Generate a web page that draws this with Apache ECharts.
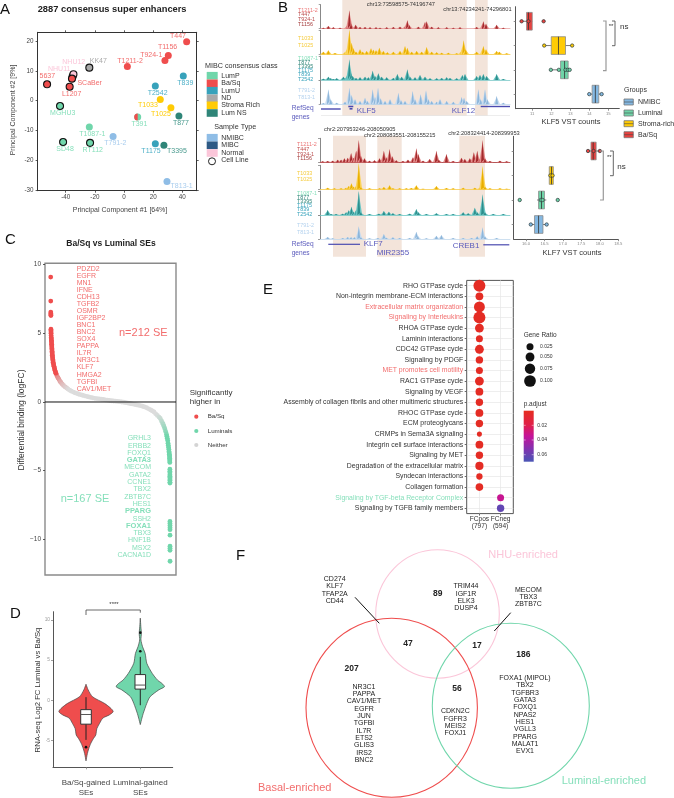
<!DOCTYPE html>
<html><head><meta charset="utf-8">
<style>html,body{margin:0;padding:0;background:#fff}#c{width:674px;height:798px}</style>
<script src="https://cdn.jsdelivr.net/npm/echarts@6/dist/echarts.min.js"></script>
</head><body><div id="c"></div>
<script>
// ---------- DATA ----------
// Panel A
const pcaNames=['T447','T1156','T924-1','T1211-2','KK47','NHU11','NHU12','SCaBer','5637','L1207','MGHU3','T839','T2542','T1033','T1025','T877','T391','T1087-1','T791-2','SD48','RT112','T1175','T3395','T813-1'];
const pc1=[43,30.4,28.1,2.3,-23.8,-35.2,-34.7,-35.7,-52.8,-37.3,-43.9,40.7,21.5,24.9,32.2,37.7,9.4,-23.8,-7.5,-41.8,-23.3,21.5,27.4,29.5];
const pc2=[19.8,15.2,13.5,11.5,11.1,8.2,8.9,7.4,5.5,4.7,-1.8,8.3,4.9,0.4,-2.4,-5.2,-5.5,-8.9,-12.1,-13.9,-14.2,-14.5,-15,-27.2];
const pcaClass=['Ba/Sq','Ba/Sq','Ba/Sq','Ba/Sq','ND','Normal','Normal','Ba/Sq','Ba/Sq','Ba/Sq','LumP','LumU','LumU','Stroma Rich','Stroma Rich','Lum NS','LumP','LumP','NMIBC','LumP','LumP','LumU','Lum NS','NMIBC'];
const pcaCellLines=['KK47','NHU11','NHU12','SCaBer','5637','L1207','MGHU3','SD48','RT112'];
const classNames=['LumP','Ba/Sq','LumU','ND','Stroma Rich','Lum NS'];
const sampleTypes=['NMIBC','MIBC','Normal'];
const pcaXTicks=[-40,-20,0,20,40];
const pcaYTicks=[-30,-20,-10,0,10,20];
// Panel B tracks: [genomic bin, signal]
const klf5BaSq=[[100,3],[115,8],[130,4],[150,3],[172,10],[178,55],[183,15],[197,12],[210,5],[225,5],[240,4],[258,4],[270,3],[290,4],[310,5],[330,6],[346,8],[352,25],[358,10],[385,6],[405,20],[410,22],[425,6],[445,4],[470,4],[490,3],[510,4],[560,5],[580,22],[588,15],[620,12],[640,3]];
const klf5Stroma=[[100,8],[115,12],[135,4],[165,6],[172,18],[178,75],[185,35],[190,18],[198,8],[210,15],[218,8],[230,10],[243,18],[250,14],[258,12],[268,20],[280,10],[292,6],[310,8],[330,10],[345,25],[352,20],[365,8],[380,10],[395,8],[410,22],[425,8],[440,6],[455,5],[475,5],[500,3],[515,12],[521,42],[527,15],[560,8],[580,25],[588,15],[620,10],[628,8],[650,3]];
const klf5Luminal=[[100,4],[115,10],[122,5],[130,3],[140,5],[160,10],[165,5],[172,15],[178,62],[183,20],[188,12],[198,6],[210,8],[225,10],[235,8],[248,28],[255,12],[265,20],[275,10],[290,8],[310,6],[322,18],[335,10],[352,32],[360,10],[375,8],[390,15],[405,10],[420,5],[440,5],[455,6],[470,8],[480,6],[500,5],[517,15],[525,18],[560,12],[570,15],[580,18],[590,12],[620,18],[640,3]];
const klf5Nmibc=[[100,4],[115,45],[122,15],[140,5],[165,8],[178,50],[185,28],[195,15],[210,10],[225,20],[232,10],[248,45],[255,22],[264,50],[272,18],[285,10],[300,15],[325,35],[333,12],[345,10],[368,40],[375,15],[392,30],[408,42],[415,15],[425,10],[440,8],[450,15],[470,10],[490,8],[515,22],[522,20],[530,10],[565,45],[572,15],[585,45],[592,15],[620,25],[640,5]];
const klf7BaSq=[[100,3],[115,4],[130,5],[145,8],[155,8],[165,12],[175,14],[185,28],[192,14],[200,35],[208,67],[214,20],[225,12],[240,5],[255,6],[270,12],[283,35],[290,15],[300,40],[308,18],[320,6],[340,4],[355,8],[370,15],[380,42],[386,25],[400,5],[420,10],[440,35],[447,8],[470,25],[490,4],[515,14],[525,10],[540,12],[552,30],[562,35],[570,10],[578,67],[585,12],[600,4],[630,5],[650,3]];
const klf7Stroma=[[115,5],[135,3],[155,3],[170,5],[178,10],[186,18],[192,8],[200,10],[208,78],[214,6],[240,3],[270,3],[283,7],[300,12],[310,3],[330,3],[350,3],[365,4],[380,12],[400,2],[440,10],[470,4],[490,3],[520,5],[555,5],[570,5],[578,70],[585,8],[600,3],[630,3],[650,2]];
const klf7Luminal=[[115,15],[125,3],[140,3],[160,4],[170,8],[178,14],[186,25],[192,10],[200,15],[208,72],[214,8],[240,3],[268,4],[283,12],[298,10],[310,5],[330,3],[360,4],[380,18],[386,8],[410,3],[440,5],[470,3],[490,3],[520,8],[535,5],[555,22],[562,8],[578,62],[585,8],[610,3],[640,3]];
const klf7Nmibc=[[115,6],[130,2],[160,3],[175,6],[185,5],[195,5],[208,38],[214,5],[240,2],[265,3],[283,15],[290,4],[310,5],[330,3],[360,3],[380,22],[384,10],[410,2],[440,10],[455,12],[490,3],[520,3],[545,3],[562,8],[578,35],[585,8],[620,3]];
// Panel B boxes: [row, low, q1, median, q3, high]
const klf5Boxes=[[1,10.44,10.7,10.8,11,11],[2,11.63,12,12.38,12.75,13.1],[3,11.98,12.49,12.7,12.89,12.97],[4,14,14.15,14.32,14.5,14.65]];
const klf5Points=[[10.44,1],[10.8,1],[11.6,1],[11.63,2],[13.1,2],[11.98,3],[12.4,3],[12.75,3],[12.87,3],[12.97,3],[14,4],[14.65,4]];
const klf7Boxes=[[1,17.68,17.76,17.82,17.9,18],[2,16.63,16.63,16.69,16.74,16.74],[3,16.3,16.34,16.42,16.5,16.55],[4,16.13,16.23,16.34,16.46,16.56]];
const klf7Points=[[17.68,1],[17.83,1],[18,1],[16.66,2],[16.72,2],[15.83,3],[16.4,3],[16.45,3],[16.86,3],[16.13,4],[16.56,4]];
const klf5Ticks=[11,12,13,14,15];
const klf7Ticks=[16,16.5,17,17.5,18,18.5];
const groupNames=['NMIBC','Luminal','Stroma-rich','Ba/Sq'];
// Panel C
const baSqSE=[[1,9.1],[2,7.35],[3,6.55],[4,6.45],[5,6.35],[6,6.3],[7,5.3],[8,5.2],[9,5.1],[10,5],[12,4.85],[14,4.7],[16,4.6],[18,4.5],[20,4.4],[22,4.3],[24,4.2],[26,4.1],[28,4],[30,3.9],[32,3.8],[34,3.7],[36,3.6],[38,3.5],[40,3.4],[44,3.3],[48,3.2],[52,3.1],[56,3],[60,2.9],[65,2.8],[72,2.7],[80,2.6],[88,2.5],[96,2.4],[104,2.3],[115,2.2],[125,2.1]];
const neitherSE=[[140,2],[160,1.85],[180,1.75],[200,1.65],[226,1.5],[250,1.42],[280,1.3],[310,1.2],[350,1.1],[387,1.02],[420,.94],[460,.86],[500,.79],[550,.72],[590,.67],[629,.63],[670,.58],[720,.53],[770,.49],[820,.45],[870,.41],[920,.37],[970,.33],[1020,.3],[1070,.27],[1120,.25],[1170,.23],[1220,.2],[1270,.18],[1320,.15],[1370,.13],[1420,.11],[1470,.09],[1520,.07],[1570,.06],[1620,.04],[1670,.02],[1720,0],[1770,-.02],[1820,-.05],[1870,-.08],[1920,-.11],[1970,-.14],[2020,-.17],[2070,-.2],[2120,-.23],[2170,-.27],[2220,-.31],[2270,-.36],[2320,-.42],[2370,-.5],[2420,-.58],[2460,-.65],[2500,-.73],[2540,-.86],[2580,-.98],[2620,-1.1],[2650,-1.2],[2680,-1.38],[2700,-1.5],[2720,-1.62],[2740,-1.78],[2760,-1.95],[2780,-2.15],[2800,-2.35],[2887,-11.6]];
const luminalSE=[[2810,-2.5],[2820,-2.65],[2830,-2.8],[2838,-3],[2845,-3.15],[2852,-3.3],[2858,-3.45],[2862,-3.6],[2866,-3.7],[2870,-3.8],[2873,-3.9],[2876,-4],[2878,-4.1],[2880,-4.2],[2881,-4.3],[2882,-4.4],[2883,-4.9],[2883,-5.05],[2884,-5.15],[2884,-5.3],[2884,-5.4],[2885,-5.5],[2885,-5.6],[2885,-5.7],[2885,-5.85],[2885,-5.9],[2885,-8.7],[2885,-8.85],[2886,-9],[2886,-9.15],[2886,-9.3],[2886,-9.7],[2886,-10.5],[2886,-10.65],[2886,-10.8]];
const cYTicks=[-10,-5,0,5,10];
const baSqGenes=['PDZD2','EGFR','MN1','IFNE','CDH13','TGFB2','OSMR','IGF2BP2','BNC1','BNC2','SOX4','PAPPA','IL7R','NR3C1','KLF7','HMGA2','TGFBI','CAV1/MET'];
const luminalGenes=['GRHL3','ERBB2','FOXQ1','GATA3','MECOM','GATA2','CCNE1','TBX2','ZBTB7C','HES1','PPARG','SSH2','FOXA1','TBX3','HNF1B','MSX2','CACNA1D'];
const luminalBold=['GATA3','PPARG','FOXA1'];
// Panel D
const violinBaSqY=[2,1.3,.45,-.37,-1,-1.4,-1.8,-2.2,-2.85,-3.5,-4.3,-4.7,-5.3,-6,-6.6,-7.5];
const violinBaSqW=[0,.04,.12,.34,.46,.5,.43,.31,.25,.2,.18,.14,.09,.05,.025,0];
const violinLumY=[10.2,9.15,8.3,7.5,6.7,5.8,4.6,3.35,2.5,2.1,1.7,1.3,.45,-.37,-1.6,-2.2,-3];
const violinLumW=[0,.01,.02,.012,.04,.09,.12,.22,.32,.4,.445,.34,.18,.12,.055,.03,0];
const violinBoxes=[[1,-4.9,-2.95,-1.75,-1.15,.4],[2,-.6,1.4,1.9,3.2,5.4]];
const violinOutliers=[[1,-5.8],[2,6.1],[2,8.4]];
const violinCats=['Ba/Sq-gained\nSEs','Luminal-gained\nSEs'];
const dYTicks=[-5,0,5,10];
// Panel E
const pathways=['RHO GTPase cycle','Non-integrin membrane-ECM interactions','Extracellular matrix organization','Signaling by Interleukins','RHOA GTPase cycle','Laminin interactions','CDC42 GTPase cycle','Signaling by PDGF','MET promotes cell motility','RAC1 GTPase cycle','Signaling by VEGF','Assembly of collagen fibrils and other multimeric structures','RHOC GTPase cycle','ECM proteoglycans','CRMPs in Sema3A signaling','Integrin cell surface interactions','Signaling by MET','Degradation of the extracellular matrix','Syndecan interactions','Collagen formation','Signaling by TGF-beta Receptor Complex','Signaling by TGFB family members'];
const geneRatio=[.105,.035,.085,.105,.05,.025,.05,.03,.025,.05,.035,.03,.035,.03,.005,.035,.03,.04,.017,.033,.025,.03];
const pAdjust=[.002,.002,.002,.002,.002,.002,.002,.002,.002,.002,.002,.002,.002,.002,.002,.002,.002,.002,.002,.002,.033,.062];
const clusterOfPathway=[0,0,0,0,0,0,0,0,0,0,0,0,0,0,0,0,0,0,0,0,1,1];
const clusterNames=['FCpos\n(797)','FCneg\n(594)'];
const redPathways=['Extracellular matrix organization','Signaling by Interleukins','MET promotes cell motility'];
const greenPathways=['Signaling by TGF-beta Receptor Complex'];
const ratioLegend=[.025,.05,.075,.1];
// Panel F
const vennCounts=['89','47','17','186','207','56'];
const vennListBasalNhu=['CD274','KLF7','TFAP2A','CD44'];
const vennListNhu=['TRIM44','IGF1R','ELK3','DUSP4'];
const vennListNhuLum=['MECOM','TBX3','ZBTB7C'];
const vennListBasal=['NR3C1','PAPPA','CAV1/MET','EGFR','JUN','TGFBI','IL7R','ETS2','GLIS3','IRS2','BNC2'];
const vennListLum=['FOXA1 (MIPOL)','TBX2','TGFBR3','GATA3','FOXQ1','NPAS2','HES1','VGLL3','PPARG','MALAT1','EVX1'];
const vennListBasalLum=['CDKN2C','FGFR3','MEIS2','FOXJ1'];

// ---------- STYLE ----------
const FONT='"Liberation Sans", Arial, sans-serif';
const RED='#ef4d4d',GREEN='#70d6ab',LRED='#f26d6d',LGREEN='#85dfba';
const classColor={'LumP':GREEN,'Ba/Sq':RED,'LumU':'#37a2bb','ND':'#a9a9a9','Stroma Rich':'#ffcb05','Lum NS':'#2f8578','NMIBC':'#8fbde6','MIBC':'#2e5a85','Normal':'#fbc6d9'};
const labelColor=Object.assign({},classColor,{'LumP':LGREEN,'Ba/Sq':LRED,'ND':'#a9a9a9','Normal':'#fbc6d9','NMIBC':'#a9cdee','LumU':'#4fb0c8','Lum NS':'#4a9a8e'});
const groupColor={'NMIBC':'#84b8e2','Luminal':'#6fd4a8','Stroma-rich':'#ffcb05','Ba/Sq':'#e8413f'};
const trackStyle={red:['#a32a2c','#e58c8c'],yel:['#e8ae00','#fbd45c'],teal:['#2d8e8c','#6cc6c4'],blue:['#8db6da','#c8dcf0']};
// label offsets (px) relative to each PCA point
const pcaLabelOffset={'T447':[-8.7,-5.3],'T1156':[-.7,-8],'T924-1':[-13.7,-5],'T1211-2':[2.7,-5.7],'KK47':[9,-7],'NHU12':[.3,-12],'NHU11':[-13.5,-7],'SCaBer':[17.7,4],'5637':[.3,-8.7],'L1207':[2,7.3],'MGHU3':[2.7,6.7],'T839':[2,7],'T2542':[2.3,6.7],'T1033':[-12.3,6],'T1025':[-10,6.7],'T877':[2,6.7],'T391':[1.7,7],'T1087-1':[3,7],'T791-2':[2.3,6.7],'SD48':[2,7.3],'RT112':[2.7,7.3],'T1175':[-4.3,7],'T3395':[13,6],'T813-1':[14.7,4.7]};

// ---------- BUILDERS ----------
const graphics=[],grids=[],xAxes=[],yAxes=[],series=[];
function T(text,x,y,o={}){
  graphics.push({type:'text',x,y,rotation:o.rot||0,silent:true,z:o.z||5,style:{text,fill:o.color||'#333',
    font:(o.bold?'bold ':'')+(o.size||7)+'px '+FONT,textAlign:o.align||'left',textVerticalAlign:'middle'}});
}
function R(x,y,w,h,fill,stroke,lw,z){graphics.push({type:'rect',silent:true,z:z===undefined?1:z,shape:{x,y,width:w,height:h},style:{fill,stroke:stroke||null,lineWidth:lw||0}});}
function L(pts,stroke,lw,z){graphics.push({type:'polyline',silent:true,z:z||5,shape:{points:pts},style:{fill:null,stroke,lineWidth:lw||1}});}
function C(cx,cy,r,fill,stroke,lw){graphics.push({type:'circle',silent:true,z:5,shape:{cx,cy,r},style:{fill:fill||null,stroke:stroke||null,lineWidth:lw||0}});}
function E(cx,cy,rx,ry,stroke,lw){graphics.push({type:'ellipse',silent:true,z:4,shape:{cx,cy,rx,ry},style:{fill:null,stroke,lineWidth:lw}});}
function addGrid(l,t,r,b,o={}){grids.push(Object.assign({left:l,top:t,width:r-l,height:b-t,containLabel:false},o));return grids.length-1;}
function valAxis(g,min,max,ticks,o={}){
  const line=o.line===undefined?{show:true,lineStyle:{color:o.lineColor||'#333',width:o.lineWidth||1},onZero:false}:o.line;
  return Object.assign({type:'value',gridIndex:g,min,max,scale:true,axisLine:line,
    axisTick:ticks?{show:true,length:o.tickLen||2,customValues:ticks,lineStyle:{color:o.tickColor||'#333',width:.8}}:{show:false},
    axisLabel:(ticks&&!o.noLabel)?Object.assign({show:true,customValues:ticks,fontSize:o.labelSize||6,color:o.labelColor||'#444',margin:o.margin||3,fontFamily:FONT,formatter:o.fmt,hideOverlap:false},o.labelExtra||{}):{show:false},
    splitLine:{show:false}},o.extra||{});
}

// ---------- PANEL A ----------
const gA=addGrid(37.6,32.3,196.7,190.7);
xAxes.push(valAxis(gA,-59.3,49.9,pcaXTicks,{margin:4,labelSize:6.3}));
yAxes.push(valAxis(gA,-30.3,23,pcaYTicks,{margin:4,labelSize:6.3}));
// frame + mirrored ticks
xAxes.push(valAxis(gA,-59.3,49.9,pcaXTicks,{noLabel:true,extra:{position:'top'}}));
yAxes.push(valAxis(gA,-30.3,23,pcaYTicks,{noLabel:true,extra:{position:'right'}}));
const iA=xAxes.length-2,jA=yAxes.length-2;
series.push({type:'scatter',xAxisIndex:iA,yAxisIndex:jA,symbolSize:7,z:3,
  data:pcaNames.map((n,i)=>{
    const cell=pcaCellLines.includes(n),off=pcaLabelOffset[n];
    return {name:n,value:[pc1[i],pc2[i]],
      itemStyle:{opacity:1,color:classColor[pcaClass[i]],borderColor:cell?'#111':'transparent',borderWidth:cell?1.1:0},
      label:{show:true,formatter:n,position:'inside',offset:off,color:labelColor[pcaClass[i]],fontSize:7,fontFamily:FONT}};
  })});
series.push({type:'custom',xAxisIndex:iA,yAxisIndex:jA,z:4,data:[[pc1[pcaNames.indexOf('T391')],pc2[pcaNames.indexOf('T391')]]],
  renderItem:(p,api)=>{const c=api.coord([api.value(0),api.value(1)]);
    return {type:'sector',shape:{cx:c[0],cy:c[1],r:3.5,r0:0,startAngle:Math.PI/2,endAngle:Math.PI*1.5},style:{fill:RED}};}});
T('2887 consensus super enhancers',37.7,9,{size:9.3,bold:true,color:'#222'});
T('Principal Component #1 [64%]',120,210,{align:'center',size:7,color:'#444'});
T('Principal Component #2 [9%]',13.3,110,{align:'center',size:7,color:'#444',rot:Math.PI/2});
T('MIBC consensus class',205,65.7,{size:7.2});
classNames.forEach((n,i)=>{const y=[75.7,83.3,90.7,98.3,105.3,113][i];R(206.7,y-3.8,11,7.6,classColor[n]);T(n,221.3,y,{size:7});});
T('Sample Type',214.3,127,{size:7.2});
sampleTypes.forEach((n,i)=>{const y=[137.7,145.3,153][i];R(206.7,y-3.8,11,7.6,classColor[n]);T(n,221.3,y,{size:7});});
C(212,161.3,3.5,'#fff','#222',1);T('Cell Line',221.3,160.5,{size:7});

// ---------- PANEL B ----------
function trackRender(colors){return (p,api)=>{
  const b=api.coord([api.value(0),0]),t=api.coord([api.value(0),api.value(1)]);
  return {type:'group',children:[
    {type:'polygon',shape:{points:[[b[0]-3.4,b[1]],[t[0]-.8,t[1]+(b[1]-t[1])*.3],[t[0],t[1]],[t[0]+.8,t[1]+(b[1]-t[1])*.3],[b[0]+3.4,b[1]]]},style:{fill:colors[1]}},
    {type:'polygon',shape:{points:[[b[0]-1.5,b[1]],[t[0],t[1]],[b[0]+1.5,b[1]]]},style:{fill:colors[0]}}]};
};}
function addTrack(data,left,right,base,col,style){
  const g=addGrid(left,base-24,right,base);
  xAxes.push(valAxis(g,92,660,null,{line:{show:true,onZero:false,lineStyle:{color:col,width:.8}}}));
  yAxes.push(valAxis(g,0,72,[0,72],{noLabel:true,lineColor:'#888',lineWidth:1,tickColor:'#888',tickLen:2}));
  series.push({type:'custom',xAxisIndex:xAxes.length-1,yAxisIndex:yAxes.length-1,data,clip:false,renderItem:trackRender(style),z:3});
}
addTrack(klf5BaSq,320.7,510,28.7,'#e8a5a5',trackStyle.red);
addTrack(klf5Stroma,320.7,510,54.3,'#f7cc4a',trackStyle.yel);
addTrack(klf5Luminal,320.7,510,80,'#7cc9c9',trackStyle.teal);
addTrack(klf5Nmibc,320.7,510,104.3,'#c2d8ec',trackStyle.blue);
addTrack(klf7BaSq,320,510,162.3,'#a32a2c',trackStyle.red);
addTrack(klf7Stroma,320,510,189.3,'#f7cc4a',trackStyle.yel);
addTrack(klf7Luminal,320,510,215,'#6cc6c4',trackStyle.teal);
addTrack(klf7Nmibc,320,510,239,'#c2d8ec',trackStyle.blue);
const SH='#f3e4da';
R(342.3,0,124.4,115.7,SH,null,0,0);R(475,0,12.7,115.7,SH,null,0,0);
R(333,135.7,33,121,SH,null,0,0);R(377.3,135.7,24.4,121,SH,null,0,0);R(459.3,135.7,25.7,121,SH,null,0,0);
const topLabels=[['T1211-2',10.3,'#ec7475'],['T447',15,'#b94a4a'],['T924-1',20,'#b94a4a'],['T1156',24.3,'#a33a3a'],['T1033',38.7,'#f5cb3d'],['T1025',45.3,'#f5cb3d'],['T1087-1',59,LGREEN],['T877',62.7,'#2f8578'],['T3395',66.7,'#2f8578'],['T1175',70.7,'#37a2bb'],['T839',75,'#37a2bb'],['T2542',79.3,'#37a2bb'],['T791-2',91,'#b4d2ee'],['T813-1',97.7,'#b4d2ee']];
topLabels.forEach(a=>T(a[0],298,a[1],{size:5.4,color:a[2]}));
const botLabels=[['T1211-2',144.7,'#ec7475'],['T447',149.3,'#c24c4c'],['T924-1',154.3,'#b94a4a'],['T1156',159,'#a33a3a'],['T1033',173.7,'#f5cb3d'],['T1025',179.7,'#f5cb3d'],['T1087-1',193.7,LGREEN],['T877',197.7,'#2f8578'],['T3395',201.7,'#2f8578'],['T1175',205.7,'#37a2bb'],['T839',210,'#37a2bb'],['T2542',214.3,'#37a2bb'],['T791-2',225.7,'#b4d2ee'],['T813-1',232.7,'#b4d2ee']];
botLabels.forEach(a=>T(a[0],297,a[1],{size:5.4,color:a[2]}));
T('chr13:73598575-74196747',366.7,4,{size:5.7});T('chr13:74234241-74296801',443.3,9,{size:5.7});
T('chr2:207953246-208050905',324,129.3,{size:5.7});T('chr2:208083551-208155215',364,135,{size:5.7});T('chr2:208324414-208399953',448.3,133,{size:5.7});
const GENE='#4a4ab0',GT='#5a5abc';
L([[321,109],[340.7,109]],GENE,1.4);R(348.3,105.7,5,1.6,GENE);R(349.5,108,3,1.6,GENE);L([[480.7,106.5],[510,106.5]],GENE,1.4);
L([[321,115.5],[510,115.5]],'#e0e0e0',.6);
T('KLF5',356.7,111,{size:8,color:GT});T('KLF12',451.7,111,{size:8,color:GT});
T('RefSeq',291.7,107.7,{size:6.6,color:GT});T('genes',291.7,116.7,{size:6.6,color:GT});
L([[328.3,244.3],[360,244.3]],GENE,1.2);L([[483.3,244.8],[509.3,244.8]],GENE,1.2);
T('KLF7',363.7,244,{size:8,color:GT});T('MIR2355',376.7,252.7,{size:8,color:GT});T('CREB1',452.7,245.7,{size:8,color:GT});
T('RefSeq',291.7,244.3,{size:6.6,color:GT});T('genes',291.7,253.3,{size:6.6,color:GT});

const boxRender=(horizontal,thick,fills,stroke,lw)=>(p,api)=>{
  const pos=api.value(0);const co=v=>horizontal?api.coord([v,pos]):api.coord([pos,v]);
  const a=co(api.value(1)),q1=co(api.value(2)),m=co(api.value(3)),q3=co(api.value(4)),b=co(api.value(5));
  const fill=fills[p.dataIndex];const h=thick/2;
  const rect=horizontal?{x:q1[0],y:q1[1]-h,width:q3[0]-q1[0],height:thick}:{x:q1[0]-h,y:q3[1],width:thick,height:q1[1]-q3[1]};
  const med=horizontal?{x1:m[0],y1:m[1]-h,x2:m[0],y2:m[1]+h}:{x1:m[0]-h,y1:m[1],x2:m[0]+h,y2:m[1]};
  return {type:'group',children:[
    {type:'line',shape:{x1:a[0],y1:a[1],x2:b[0],y2:b[1]},style:{stroke:stroke,lineWidth:lw}},
    {type:'rect',shape:rect,style:{fill,stroke:horizontal?'#8c8c8c':'#333',lineWidth:lw}},
    {type:'line',shape:med,style:{stroke:horizontal?'#333':'#555',lineWidth:lw}}]};
};
function addBoxes(boxes,points,min,max,ticks,l,t,r,b,fmt){
  const g=addGrid(l,t,r,b);
  xAxes.push(valAxis(g,min,max,ticks,{lineColor:'#555',tickColor:'#777',labelSize:4.2,labelColor:'#888',margin:3,fmt}));
  yAxes.push(valAxis(g,.4,4.6,[1,2,3,4],{noLabel:true,lineColor:'#555',tickColor:'#777',extra:{inverse:true}}));
  const xi=xAxes.length-1,yi=yAxes.length-1;
  series.push({type:'custom',xAxisIndex:xi,yAxisIndex:yi,z:3,data:boxes,encode:{x:[1,2,3,4,5],y:0},
    renderItem:boxRender(true,17.7,[groupColor['Ba/Sq'],groupColor['Stroma-rich'],groupColor['Luminal'],groupColor['NMIBC']],'#555',.8)});
  series.push({type:'scatter',xAxisIndex:xi,yAxisIndex:yi,z:4,symbolSize:3.4,data:points,
    itemStyle:{opacity:1,color:pa=>[groupColor['Ba/Sq'],groupColor['Stroma-rich'],groupColor['Luminal'],groupColor['NMIBC']][pa.value[1]-1],borderColor:'#2a3a3a',borderWidth:.7}});
}
addBoxes(klf5Boxes,klf5Points,10.13,15.58,klf5Ticks,515.7,6.7,619.3,108.7,v=>String(v));
addBoxes(klf7Boxes,klf7Points,15.667,18.5,klf7Ticks,513.7,136.3,618.3,239.2,v=>v.toFixed(1));
T('KLF5 VST counts',571,121.7,{align:'center',size:7.5});T('KLF7 VST counts',572,253.3,{align:'center',size:7.5});
L([[603,21],[606,21],[606,70.7],[603,70.7]],'#999',1.2);L([[612,21],[615,21],[615,45.7],[612,45.7]],'#555',.9);
T('**',611,26,{size:6,align:'center'});T('ns',620,26.7,{size:8});
L([[600,151],[603.3,151],[603.3,200],[600,200]],'#999',1.2);L([[610,151],[613.3,151],[613.3,175.7],[610,175.7]],'#555',.9);
T('**',609.3,157,{size:6,align:'center'});T('ns',617.3,166.3,{size:8});
T('Groups',624,90.3,{size:7});
groupNames.forEach((n,i)=>{const y=[102,113,123.7,134.7][i];R(624,y-3,9.3,6,groupColor[n],'#777',.8);L([[624,y],[633.3,y]],'#444',.6);T(n,638,y,{size:7});});

// ---------- PANEL C ----------
const gC=addGrid(45,263.3,176,575,{show:true,borderColor:'#8a8a8a',borderWidth:1.4});
xAxes.push(valAxis(gC,-137,3031,null,{line:{show:false,onZero:false}}));
yAxes.push(valAxis(gC,-12.6,10.1,cYTicks,{line:{show:false,onZero:false},labelSize:6.5,margin:4,fmt:v=>v<0?'\u2212'+(-v):String(v)}));
const iC=xAxes.length-1,jC=yAxes.length-1;
function mix(a,b,t){t=Math.max(0,Math.min(1,t));const h=s=>[1,3,5].map(i=>parseInt(s.substr(i,2),16));const x=h(a),y=h(b);return 'rgb('+x.map((v,i)=>Math.round(v+(y[i]-v)*t)).join(',')+')';}
series.push({type:'scatter',xAxisIndex:iC,yAxisIndex:jC,symbolSize:4.8,z:3,name:'Neither',data:neitherSE,
  itemStyle:{opacity:1,color:p=>{const f=p.value[1];return f>0?mix('#dcdcdc',RED,(f-.9)/1.6):mix('#dcdcdc',GREEN,(-f-.9)/1.7);}}});
series.push({type:'scatter',xAxisIndex:iC,yAxisIndex:jC,symbolSize:4.8,z:3,name:'Luminals',data:luminalSE,itemStyle:{opacity:1,color:GREEN}});
series.push({type:'scatter',xAxisIndex:iC,yAxisIndex:jC,symbolSize:4.8,z:3,name:'Ba/Sq',data:baSqSE,itemStyle:{opacity:1,color:RED}});
series.push({type:'line',xAxisIndex:iC,yAxisIndex:jC,symbol:'none',z:4,data:[[-137,0],[3031,0]],lineStyle:{color:'#111',width:1}});
T('Ba/Sq vs Luminal SEs',111,243.7,{size:8.5,bold:true,align:'center',color:'#222'});
T('Differential binding (logFC)',21.7,420,{size:8.5,align:'center',rot:Math.PI/2});
baSqGenes.forEach((g,i)=>T(g,76.7,269+i*7.04,{size:7,color:LRED}));
luminalGenes.forEach((g,i)=>{const b=luminalBold.includes(g);T(g,151,438.3+i*7.3,{size:b?7.5:7,color:LGREEN,align:'right',bold:b});});
T('n=212 SE',119,333.3,{size:11,color:LRED});T('n=167 SE',60.7,499,{size:11,color:LGREEN});
T('Significantly',189.7,392.3,{size:8});T('higher in',189.7,401.3,{size:8});
[['Ba/Sq',RED,416.7],['Luminals',GREEN,431],['Neither','#d4d4d4',445]].forEach(a=>{C(196.3,a[2],2.1,a[1]);T(a[0],207.7,a[2],{size:6.2});});

// ---------- PANEL D ----------
const gD=addGrid(53,611.7,172.7,767.3);
xAxes.push(valAxis(gD,.392,2.597,[1,2],{lineColor:'#555',tickColor:'#888',labelSize:8,labelColor:'#444',margin:11,fmt:v=>violinCats[v-1],labelExtra:{lineHeight:9.6}}));
yAxes.push(valAxis(gD,-8.3,11,dYTicks,{lineColor:'#555',tickColor:'#888',labelSize:4.8,labelColor:'#999',margin:3}));
const iD=xAxes.length-1,jD=yAxes.length-1;
function violin(center,ys,ws,color){
  series.push({type:'custom',xAxisIndex:iD,yAxisIndex:jD,z:2,data:[[center,ys[0]]],
    renderItem:(p,api)=>{const left=ys.map((y,i)=>api.coord([center-ws[i],y]));const right=ys.map((y,i)=>api.coord([center+ws[i],y])).reverse();
      return {type:'polygon',shape:{points:left.concat(right),smooth:.25},style:{fill:color,stroke:'#444',lineWidth:.7}};}});
}
violin(1,violinBaSqY,violinBaSqW,RED);violin(2,violinLumY,violinLumW,GREEN);
series.push({type:'custom',xAxisIndex:iD,yAxisIndex:jD,z:3,data:violinBoxes,encode:{x:0,y:[1,2,3,4,5]},renderItem:boxRender(false,10.6,['#fff','#fff'],'#222',1)});
series.push({type:'scatter',xAxisIndex:iD,yAxisIndex:jD,z:4,symbolSize:2.6,data:violinOutliers,itemStyle:{opacity:1,color:'#111'}});
T('RNA-seq Log2 FC Luminal vs Ba/Sq',37.7,690,{size:7.7,align:'center',rot:Math.PI/2});
L([[86,615],[86,610],[140.3,610],[140.3,612.7]],'#444',.8);T('****',114,604.7,{size:6,align:'center'});

// ---------- PANEL E ----------
const gE=addGrid(466.7,280.4,513.3,513.6,{show:true,borderColor:'#555',borderWidth:1});
xAxes.push(valAxis(gE,-.6,1.6,[0,1],{line:{show:false,onZero:false},tickColor:'#444',labelSize:6.6,labelColor:'#333',margin:2.5,fmt:v=>clusterNames[v],extra:{splitLine:{show:true,lineStyle:{color:'#e6e6e6',width:.7}}}}));
yAxes.push({type:'category',gridIndex:gE,inverse:true,
  data:pathways.map(n=>({value:n,textStyle:{color:redPathways.includes(n)?LRED:greenPathways.includes(n)?LGREEN:'#333'}})),
  axisLine:{show:false,onZero:false},axisTick:{show:true,length:2,alignWithLabel:true,lineStyle:{color:'#444',width:.8}},
  axisLabel:{interval:0,fontSize:6.9,fontFamily:FONT,margin:3.5,hideOverlap:false},
  splitLine:{show:true,alignWithLabel:true,lineStyle:{color:'#e6e6e6',width:.7}}});
const sizeOfRatio=r=>Math.sqrt(20+1170*r);
const seriesE=series.length;
series.push({type:'scatter',xAxisIndex:xAxes.length-1,yAxisIndex:yAxes.length-1,z:3,itemStyle:{opacity:1},
  data:pathways.map((n,i)=>[clusterOfPathway[i],n,geneRatio[i],pAdjust[i]]),encode:{x:0,y:1},
  symbolSize:v=>sizeOfRatio(v[2])});
T('Gene Ratio',523.7,335.7,{size:6.5});
ratioLegend.forEach((r,i)=>{const y=[346.7,357,368.7,381][i];C(530,y,sizeOfRatio(r)/2,'#111');T(r.toFixed(3),540,y,{size:5});});
T('p.adjust',523.7,404.3,{size:6.5});
graphics.push({type:'rect',silent:true,z:5,shape:{x:523.7,y:410.7,width:10,height:51},
  style:{fill:new echarts.graphic.LinearGradient(0,0,0,1,[{offset:0,color:'#e52d1f'},{offset:.28,color:'#e0204a'},{offset:.5,color:'#c4149a'},{offset:.76,color:'#7f35b0'},{offset:1,color:'#4a55b5'}])}});
[[.02,425.3],[.04,440],[.06,454.7]].forEach(a=>{T(a[0].toFixed(2),537.3,a[1],{size:5});L([[523.7,a[1]],[525.7,a[1]]],'#fff',.5);L([[531.7,a[1]],[533.7,a[1]]],'#fff',.5);});

// ---------- PANEL F ----------
E(437.5,614,61.8,64.2,'#fbc6d9',1.1);
E(391.7,707.8,85.7,89.5,RED,1.1);
E(510.8,705.8,78.5,82.5,GREEN,1.1);
L([[355,597.3],[379.3,623.3]],'#111',1);L([[510.7,612.7],[494.3,631]],'#111',1);
[[533,146],[444,295],[651,302],[790,330],[275,370],[591,432]].forEach((p,i)=>T(vennCounts[i],260+p[0]/3,545+p[1]/3,{size:8.5,bold:true,align:'center',color:'#222'}));
const list=(arr,cz,y0)=>arr.forEach((g,i)=>T(g,260+cz/3,545+(y0+i*22)/3,{size:7,align:'center',color:'#222'}));
list(vennListBasalNhu,224,102);list(vennListNhu,618,124);list(vennListNhuLum,805,134);
list(vennListBasal,312,425);list(vennListLum,795,399);list(vennListBasalLum,586,499);
T('NHU-enriched',488.3,555,{size:11,color:'#fbc6d9'});
T('Basal-enriched',258,788.3,{size:11,color:LRED});
T('Luminal-enriched',561.7,780.7,{size:11,color:LGREEN});

// Panel letters
[['A',0,10],['B',278,8],['C',5,240],['D',10,614],['E',263,290],['F',236,556]].forEach(a=>T(a[0],a[1],a[2],{size:15,color:'#111'}));

// ---------- CHART ----------
const chart=echarts.init(document.getElementById('c'),null,{renderer:'canvas',width:674,height:798});
chart.setOption({animation:false,backgroundColor:'#fff',textStyle:{fontFamily:FONT},
  grid:grids,xAxis:xAxes,yAxis:yAxes,series,graphic:{elements:graphics},
  visualMap:[{type:'continuous',show:false,seriesIndex:seriesE,dimension:3,min:0,max:.07,
    inRange:{color:['#e52d1f','#e0204a','#c4149a','#7f35b0','#4a55b5']}}]});
</script></body></html>
